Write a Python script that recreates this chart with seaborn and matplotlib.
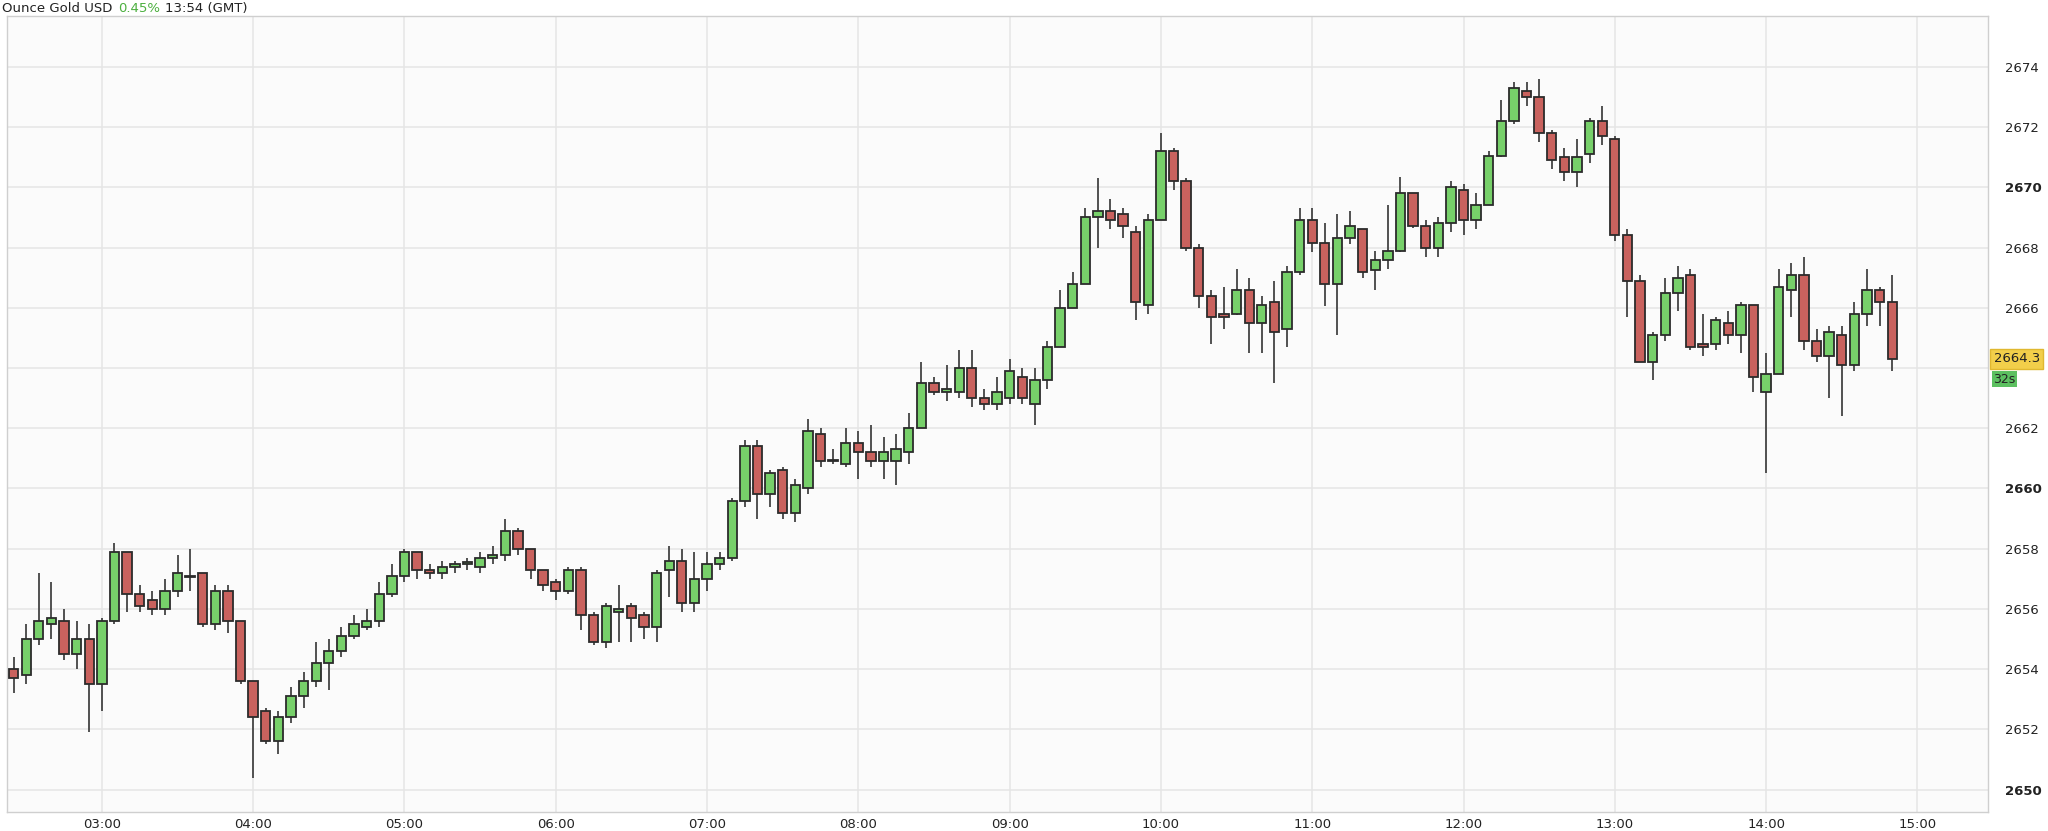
import matplotlib
matplotlib.use("Agg")
import matplotlib.pyplot as plt
import matplotlib.dates as mdates
from matplotlib.offsetbox import TextArea, HPacker, AnchoredOffsetbox
import seaborn as sns
import numpy as np
import pandas as pd

start_time = "2024-11-20 02:25"
opens = [2654.0,2653.8,2655.0,2655.5,2655.6,2654.5,2655.0,2653.5,2655.6,2657.9,
 2656.5,2656.3,2656.0,2656.6,2657.1,2657.2,2655.5,2656.6,2655.6,2653.6,
 2652.6,2651.6,2652.4,2653.1,2653.6,2654.2,2654.6,2655.1,2655.4,2655.6,
 2656.5,2657.1,2657.9,2657.3,2657.2,2657.4,2657.5,2657.4,2657.7,2657.8,
 2658.6,2658.0,2657.3,2656.9,2656.6,2657.3,2655.8,2654.9,2655.9,2656.1,
 2655.8,2655.4,2657.3,2657.6,2656.2,2657.0,2657.5,2657.7,2659.6,2661.4,
 2659.8,2660.6,2659.2,2660.0,2661.8,2660.9,2660.8,2661.5,2661.2,2660.9,
 2660.9,2661.2,2662.0,2663.5,2663.2,2663.2,2664.0,2663.0,2662.8,2663.0,
 2663.7,2662.8,2663.6,2664.7,2666.0,2666.8,2669.0,2669.2,2669.1,2668.5,
 2666.1,2668.9,2671.2,2670.2,2668.0,2666.4,2665.8,2665.8,2666.6,2665.5,
 2666.2,2665.3,2667.2,2668.9,2668.15,2666.8,2668.3,2668.6,2667.25,2667.6,
 2667.9,2669.8,2668.7,2668.0,2668.8,2669.9,2668.9,2669.4,2671.05,2672.2,
 2673.2,2673.0,2671.8,2671.0,2670.5,2671.1,2672.2,2671.6,2668.4,2666.9,
 2664.2,2665.1,2666.5,2667.1,2664.8,2664.8,2665.5,2665.1,2666.1,2663.2,
 2663.8,2666.6,2667.1,2664.9,2664.4,2665.1,2664.1,2665.8,2666.6,2666.2]
highs = [2654.4,2655.5,2657.2,2656.9,2656.0,2655.6,2655.5,2655.7,2658.2,2657.9,
 2656.8,2656.6,2657.0,2657.8,2658.0,2657.2,2656.8,2656.8,2655.6,2653.6,
 2652.7,2652.6,2653.4,2653.9,2654.9,2655.0,2655.4,2655.8,2656.0,2656.9,
 2657.5,2658.0,2657.9,2657.5,2657.6,2657.6,2657.7,2657.9,2658.1,2659.0,
 2658.7,2658.0,2657.3,2657.0,2657.4,2657.4,2655.9,2656.2,2656.8,2656.2,
 2655.9,2657.3,2658.1,2658.0,2657.9,2657.9,2657.9,2659.7,2661.6,2661.6,
 2660.6,2660.7,2660.3,2662.3,2662.0,2661.3,2662.0,2661.9,2662.1,2661.7,
 2661.8,2662.5,2664.2,2663.7,2664.1,2664.6,2664.6,2663.3,2663.7,2664.3,
 2664.0,2664.0,2664.9,2666.6,2667.2,2669.3,2670.3,2669.6,2669.3,2668.7,
 2669.1,2671.8,2671.3,2670.3,2668.1,2666.6,2666.7,2667.3,2667.0,2666.4,
 2666.9,2667.4,2669.3,2669.3,2668.8,2669.1,2669.2,2668.6,2667.9,2669.4,
 2670.35,2669.8,2668.9,2669.0,2670.2,2670.1,2669.8,2671.2,2672.9,2673.5,
 2673.5,2673.6,2671.9,2671.3,2671.6,2672.3,2672.7,2671.7,2668.6,2667.1,
 2665.2,2667.0,2667.4,2667.3,2665.8,2665.7,2665.9,2666.2,2666.1,2664.5,
 2667.3,2667.5,2667.7,2665.3,2665.4,2665.4,2666.2,2667.3,2666.7,2667.1]
lows = [2653.2,2653.5,2654.8,2655.0,2654.3,2654.0,2651.9,2652.6,2655.5,2655.9,
 2655.9,2655.8,2655.8,2656.4,2656.6,2655.4,2655.3,2655.2,2653.5,2650.4,
 2651.5,2651.2,2652.2,2652.7,2653.4,2653.3,2654.4,2655.0,2655.3,2655.4,
 2656.4,2656.9,2657.0,2657.0,2657.0,2657.2,2657.3,2657.2,2657.5,2657.6,
 2657.8,2657.0,2656.6,2656.3,2656.5,2655.3,2654.8,2654.7,2654.9,2654.9,
 2655.0,2654.9,2656.4,2655.9,2655.9,2656.6,2657.3,2657.6,2659.4,2659.0,
 2659.4,2659.0,2658.9,2659.8,2660.7,2660.8,2660.7,2660.3,2660.7,2660.3,
 2660.1,2660.8,2662.0,2663.1,2662.9,2663.0,2662.7,2662.6,2662.6,2662.8,
 2662.8,2662.1,2663.3,2664.7,2666.0,2666.8,2668.0,2668.6,2668.3,2665.6,
 2665.8,2668.9,2669.9,2667.9,2666.0,2664.8,2665.3,2665.75,2664.5,2664.5,
 2663.5,2664.7,2667.1,2667.86,2666.07,2665.1,2668.1,2667.0,2666.6,2667.3,
 2667.85,2668.65,2667.7,2667.7,2668.5,2668.4,2668.6,2669.4,2671.0,2672.1,
 2672.7,2671.5,2670.6,2670.2,2670.0,2670.8,2671.4,2668.2,2665.7,2664.2,
 2663.6,2664.9,2665.9,2664.6,2664.4,2664.6,2664.8,2664.5,2663.2,2660.5,
 2663.8,2665.7,2664.6,2664.2,2663.0,2662.4,2663.9,2665.4,2665.4,2663.9]
closes = [2653.7,2655.0,2655.6,2655.7,2654.5,2655.0,2653.5,2655.6,2657.9,2656.5,
 2656.1,2656.0,2656.6,2657.2,2657.05,2655.5,2656.6,2655.6,2653.6,2652.4,
 2651.6,2652.4,2653.1,2653.6,2654.2,2654.6,2655.1,2655.5,2655.6,2656.5,
 2657.1,2657.9,2657.3,2657.2,2657.4,2657.5,2657.5,2657.7,2657.8,2658.6,
 2658.0,2657.3,2656.8,2656.6,2657.3,2655.8,2654.9,2656.1,2656.0,2655.7,
 2655.4,2657.2,2657.6,2656.2,2657.0,2657.5,2657.7,2659.6,2661.4,2659.8,
 2660.5,2659.2,2660.1,2661.9,2660.9,2660.95,2661.5,2661.2,2660.9,2661.2,
 2661.3,2662.0,2663.5,2663.2,2663.3,2664.0,2663.0,2662.8,2663.2,2663.9,
 2663.0,2663.6,2664.7,2666.0,2666.8,2669.0,2669.2,2668.9,2668.7,2666.2,
 2668.9,2671.2,2670.2,2668.0,2666.4,2665.7,2665.7,2666.6,2665.5,2666.1,
 2665.2,2667.2,2668.9,2668.15,2666.8,2668.3,2668.7,2667.2,2667.6,2667.9,
 2669.8,2668.7,2668.0,2668.8,2670.0,2668.9,2669.4,2671.05,2672.2,2673.3,
 2673.0,2671.8,2670.9,2670.5,2671.0,2672.2,2671.7,2668.4,2666.9,2664.2,
 2665.1,2666.5,2667.0,2664.7,2664.7,2665.6,2665.1,2666.1,2663.7,2663.8,
 2666.7,2667.1,2664.9,2664.4,2665.2,2664.1,2665.8,2666.6,2666.2,2664.3]
y_ticks = [2650, 2652, 2654, 2656, 2658, 2660, 2662, 2664, 2666, 2668, 2670, 2672, 2674]
x_tick_labels = ["03:00","04:00","05:00","06:00","07:00","08:00","09:00","10:00",
                 "11:00","12:00","13:00","14:00","15:00"]
last_price = "2664.3"

sns.set_style("white")
plt.rcParams['font.family'] = ['DejaVu Sans']

df = pd.DataFrame({"time": pd.date_range(start_time, periods=len(opens), freq="5min"),
                   "open": opens, "high": highs, "low": lows, "close": closes})
df["up"] = df["close"] >= df["open"]
x = mdates.date2num(df["time"])

fig = plt.figure(figsize=(20.48, 8.31), dpi=100)
ax = fig.add_axes([0.0032, 0.0229, 0.9675, 0.958])
ax.set_facecolor("#fbfbfb")

green, red, edge = "#77d06a", "#c9625e", "#2b2b2b"
ax.vlines(x, df["low"], df["high"], color="#444444", lw=1.3, zorder=2)
bw = 3.7 / 1440
bottom = np.minimum(df["open"], df["close"])
height = np.maximum(np.abs(df["close"] - df["open"]), 0.06)
ax.bar(x, height, bw, bottom=bottom, color=[green if u else red for u in df["up"]],
       edgecolor=edge, linewidth=1.3, zorder=3)

base = pd.Timestamp(start_time).normalize()
ticks = [mdates.date2num(base + pd.Timedelta(hours=3 + i)) for i in range(len(x_tick_labels))]
ax.set_xticks(ticks)
ax.set_xticklabels(x_tick_labels)
ax.set_xlim(mdates.date2num(pd.Timestamp(start_time) - pd.Timedelta(minutes=2.8)),
            mdates.date2num(base + pd.Timedelta(hours=15, minutes=28)))
ax.set_ylim(2649.26, 2675.69)
ax.set_yticks(y_ticks)
ax.yaxis.tick_right()
# the 2664 label is hidden behind the last-price tag in the reference
ax.set_yticklabels(["" if t == 2664 else str(t) for t in y_ticks])
for lab, t in zip(ax.get_yticklabels(), y_ticks):
    if t % 10 == 0:
        lab.set_fontweight("bold")
ax.tick_params(axis="both", length=0, labelsize=9.5, colors="#222222")
ax.tick_params(axis="y", pad=12)
ax.tick_params(axis="x", pad=4)
ax.grid(True, color="#e6e6e6", lw=1.1, zorder=0)
for s in ax.spines.values():
    s.set_visible(True)
    s.set_color("#cfcfcf")
    s.set_linewidth(1.0)

title_parts = [TextArea("Ounce Gold USD", textprops=dict(fontsize=9.5, color="#222222")),
               TextArea("0.45%", textprops=dict(fontsize=9.5, color="#4caf3f")),
               TextArea("13:54 (GMT)", textprops=dict(fontsize=9.5, color="#222222"))]
box = HPacker(children=title_parts, align="baseline", pad=0, sep=4)
anch = AnchoredOffsetbox(loc="upper left", child=box, pad=0.05, frameon=False,
                         bbox_to_anchor=(0.0005, 0.999), bbox_transform=fig.transFigure,
                         borderpad=0)
fig.add_artist(anch)

ax.annotate(last_price, xy=(1.0, float(closes[-1])), xycoords=("axes fraction", "data"),
            xytext=(4, 0), textcoords="offset points", va="center", ha="left", fontsize=9.5,
            color="#222222", bbox=dict(boxstyle="square,pad=0.25", fc="#f2cf4a", ec="#e0b830"))
ax.annotate("32s", xy=(1.0, float(closes[-1]) - 0.68), xycoords=("axes fraction", "data"),
            xytext=(4, 0), textcoords="offset points", va="center", ha="left", fontsize=9,
            color="#222222", bbox=dict(boxstyle="square,pad=0.12", fc="#5cc060", ec="none"))

fig.savefig("out.png", dpi=100, facecolor="white")
